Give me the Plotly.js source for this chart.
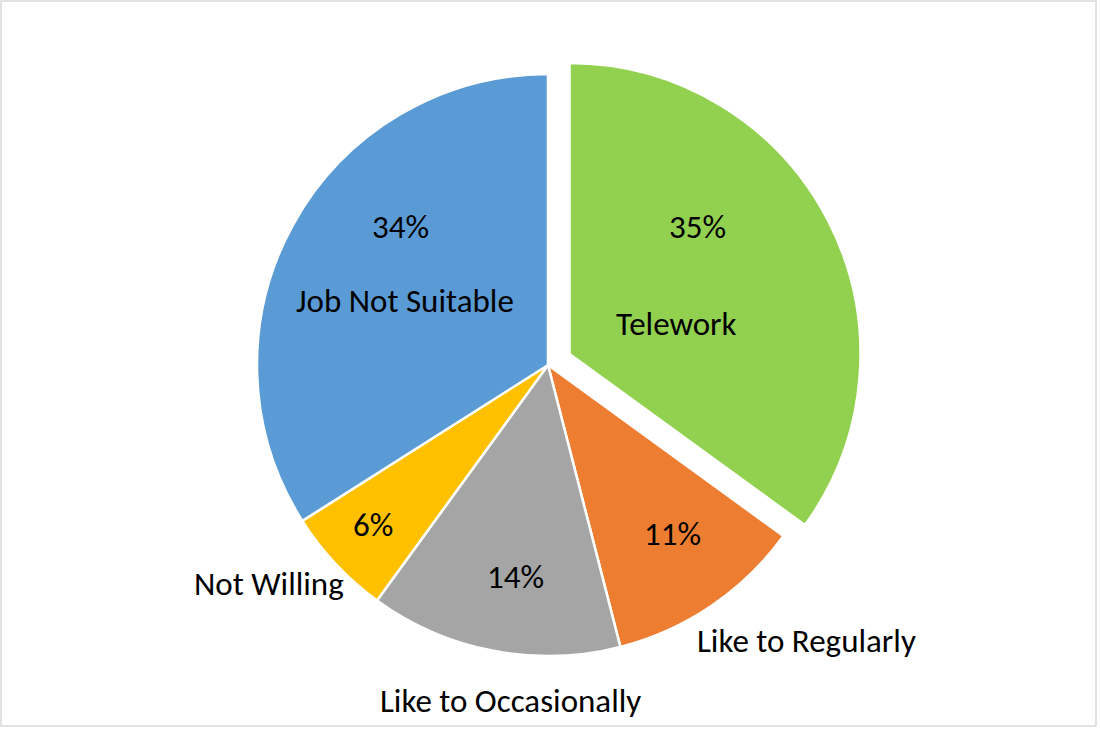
<!DOCTYPE html>
<html>
<head>
<meta charset="utf-8">
<script src="https://cdn.plot.ly/plotly-3.0.1.min.js"></script>
<style>html,body{margin:0;padding:0;background:#fff;}#chart{width:1100px;height:754px;}</style>
</head>
<body>
<div id="chart"></div>
<script>
// ---- data ----
const categories = ["Telework", "Like to Regularly", "Like to Occasionally", "Not Willing", "Job Not Suitable"];
const shares = [35, 11, 14, 6, 34];
const colors = ["#92D050", "#ED7D31", "#A5A5A5", "#FFC000", "#5B9BD5"];
const pulls = [0.083, 0, 0, 0, 0];

// ---- layout constants (pixels) ----
const W = 1100, H = 754;
const cx = 548, cy = 365, R = 291;
const box = R * (2 + 2 * Math.max(...pulls)); // plotly: r = box / (2 + 2*maxPull)
const domX = [(cx - box / 2) / W, (cx + box / 2) / W];
const domY = [1 - (cy + box / 2) / H, 1 - (cy - box / 2) / H];

// label text centres (pixels) as placed in the reference
const namePos = [[676, 324], [806, 641], [510, 701], [269, 584], [405, 301]];
const pctPos  = [[697, 227], [672, 534], [515, 577], [373, 525], [400, 227]];

const FONT = "Calibri, Carlito, Lato, sans-serif";
const FSIZE = 33;

const total = shares.reduce((a, b) => a + b, 0);
const pctText = shares.map(v => Math.round(v / total * 100) + "%");

const trace = {
  type: "pie",
  values: shares,
  labels: categories,
  sort: false,
  direction: "clockwise",
  rotation: 0,
  pull: pulls,
  marker: {colors: colors, line: {color: "#ffffff", width: 2.5}},
  textinfo: "none",
  domain: {x: domX, y: domY},
  hoverinfo: "label+percent"
};

function ann(text, p) {
  return {
    text: text,
    x: p[0] / W, y: 1 - p[1] / H,
    xref: "paper", yref: "paper",
    xanchor: "center", yanchor: "middle",
    showarrow: false,
    font: {family: FONT, size: FSIZE, color: "#000000"}
  };
}
const annotations = categories.map((c, i) => ann(c, namePos[i]))
  .concat(pctText.map((t, i) => ann(t, pctPos[i])));

const layout = {
  width: W, height: H,
  margin: {l: 0, r: 0, t: 0, b: 0},
  paper_bgcolor: "#ffffff",
  showlegend: false,
  annotations: annotations,
  shapes: [{
    type: "rect", xref: "paper", yref: "paper",
    x0: 1 / W, x1: 1096 / W, y0: 1 - 726 / H, y1: 1 - 1 / H,
    line: {color: "#d9d9d9", width: 1.5}
  }]
};

Plotly.newPlot("chart", [trace], layout, {displayModeBar: false, staticPlot: true});
</script>
</body>
</html>
